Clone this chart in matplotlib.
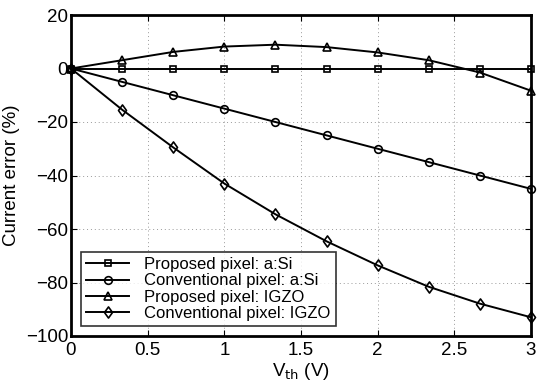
import matplotlib
matplotlib.use('Agg')
import matplotlib.pyplot as plt
from matplotlib.path import Path

# data
vth = [0, 1/3, 2/3, 1, 4/3, 5/3, 2, 7/3, 8/3, 3]
prop_asi = [0, 0, 0, 0, 0, 0, 0, 0, 0, 0]
conv_asi = [0, -5, -10, -15, -20, -25, -30, -35, -40, -45]
prop_igzo = [0, 3.1, 6.2, 8.2, 8.9, 8.0, 6.0, 3.1, -1.5, -8.3]
conv_igzo = [0, -15.4, -29.5, -43.0, -54.5, -64.6, -73.6, -81.6, -87.9, -93.0]
labels = ['Proposed pixel: a:Si', 'Conventional pixel: a:Si',
          'Proposed pixel: IGZO', 'Conventional pixel: IGZO']

plt.rcParams['font.family'] = ['Liberation Sans', 'DejaVu Sans']

# slightly narrow diamond, like the matlab one
diamond = Path([(0, 1), (0.72, 0), (0, -1), (-0.72, 0), (0, 1)],
               [Path.MOVETO, Path.LINETO, Path.LINETO, Path.LINETO, Path.CLOSEPOLY])

fig = plt.figure(figsize=(5.42, 3.87), dpi=100)
ax = fig.add_axes([71/542, 1 - 336/387, 460/542, 321/387])

series = [prop_asi, conv_asi, prop_igzo, conv_igzo]
markers = ['s', 'o', '^', diamond]
sizes = [5, 5.5, 6, 8]
for ys, m, s, lab in zip(series, markers, sizes, labels):
    ax.plot(vth, ys, color='black', lw=1.4, marker=m, ms=s,
            mfc='none', mec='black', mew=1.2, label=lab, clip_on=False, zorder=3)

ax.set_xlim(0, 3)
ax.set_ylim(-100, 20)
ax.set_xticks([0, 0.5, 1, 1.5, 2, 2.5, 3])
ax.set_xticklabels(['0', '0.5', '1', '1.5', '2', '2.5', '3'])
ax.set_yticks([-100, -80, -60, -40, -20, 0, 20])
ax.grid(True, linestyle=(0, (1, 3)), color='#999999', lw=0.7)
ax.tick_params(direction='in', top=True, right=True, labelsize=13.5, length=4)
ax.tick_params(axis='x', pad=4)
ax.tick_params(axis='y', pad=2)
for sp in ax.spines.values():
    sp.set_linewidth(2)

ax.set_xlabel(r'V$_{\rm th}$ (V)', fontsize=13.5, labelpad=2)
ax.set_ylabel('Current error (%)', fontsize=13.5, labelpad=4)

leg = ax.legend(loc='lower left', fontsize=12, frameon=True, fancybox=False,
                edgecolor='black', handlelength=2.6, borderaxespad=0.6,
                labelspacing=0.08, borderpad=0.3, handletextpad=0.9)
leg.get_frame().set_linewidth(1.2)

fig.savefig('out.png', dpi=100)
